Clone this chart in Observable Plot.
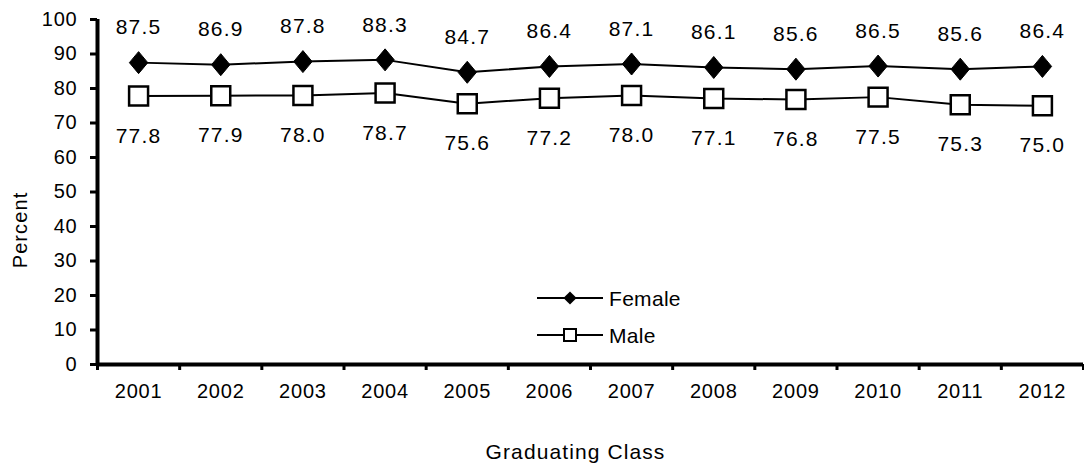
<!DOCTYPE html>
<html>
<head>
<meta charset="utf-8">
<script src="https://cdn.jsdelivr.net/npm/d3@7"></script>
<script src="https://cdn.jsdelivr.net/npm/@observablehq/plot@0.6"></script>
<style>
  html, body { margin: 0; padding: 0; background: #fff; }
  #wrap { position: relative; width: 1084px; height: 463px; font-family: "Liberation Sans", Arial, sans-serif; }
  #legend { position: absolute; left: 530px; top: 280px; }
  .tick-lbl text { letter-spacing: 0.8px; }
  .data-lbl text { letter-spacing: 1.2px; }
  .title-lbl text { letter-spacing: 1.1px; }
</style>
</head>
<body>
<div id="wrap"></div>
<script>
const years = [2001, 2002, 2003, 2004, 2005, 2006, 2007, 2008, 2009, 2010, 2011, 2012];
const female = [87.5, 86.9, 87.8, 88.3, 84.7, 86.4, 87.1, 86.1, 85.6, 86.5, 85.6, 86.4];
const male = [77.8, 77.9, 78.0, 78.7, 75.6, 77.2, 78.0, 77.1, 76.8, 77.5, 75.3, 75.0];
const yTicks = [0, 10, 20, 30, 40, 50, 60, 70, 80, 90, 100];
const seriesNames = ["Female", "Male"];
const xTitle = "Graduating Class";
const yTitle = "Percent";

const fData = years.map((y, i) => ({year: y, value: female[i]}));
const mData = years.map((y, i) => ({year: y, value: male[i]}));
const bounds = [...years.map(y => y - 0.5), years[years.length - 1] + 0.5];

const diamond = {
  draw(ctx, size) {
    const r = Math.sqrt(size / Math.PI);
    ctx.moveTo(0, -r * 1.1);
    ctx.lineTo(r * 0.92, 0);
    ctx.lineTo(0, r * 1.1);
    ctx.lineTo(-r * 0.92, 0);
    ctx.closePath();
  }
};

const font = "'Liberation Sans', Arial, sans-serif";

const chart = Plot.plot({
  width: 1084,
  height: 463,
  marginLeft: 97,
  marginRight: 1,
  marginTop: 19,
  marginBottom: 99,
  style: {fontFamily: font, fontSize: "20px", color: "#000", background: "#fff", overflow: "visible"},
  x: {domain: [bounds[0], bounds[bounds.length - 1]]},
  y: {domain: [0, 100]},
  marks: [
    Plot.axisY({ticks: yTicks, tickSize: 7, tickPadding: 13, strokeWidth: 3, strokeOpacity: 1, label: null, fontSize: 20, className: "tick-lbl"}),
    Plot.axisX({ticks: bounds, tickSize: 6, tickFormat: () => "", strokeWidth: 3, strokeOpacity: 1, label: null}),
    Plot.axisX({ticks: years, tickSize: 0, tickPadding: 19, tickFormat: d => String(d), label: null, fontSize: 20, className: "tick-lbl"}),
    Plot.ruleX([bounds[0]], {stroke: "#000", strokeWidth: 4}),
    Plot.ruleY([0], {stroke: "#000", strokeWidth: 4}),
    Plot.line(fData, {x: "year", y: "value", stroke: "#000", strokeWidth: 2}),
    Plot.line(mData, {x: "year", y: "value", stroke: "#000", strokeWidth: 2}),
    Plot.dot(fData, {x: "year", y: "value", symbol: diamond, r: 10, fill: "#000", stroke: "#000", strokeWidth: 1}),
    Plot.dot(mData, {x: "year", y: "value", symbol: "square", r: 10.7, fill: "#fff", stroke: "#000", strokeWidth: 2.5}),
    Plot.text(fData, {x: "year", y: "value", text: d => d.value.toFixed(1), dy: -35, fontSize: 21, fill: "#000", className: "data-lbl"}),
    Plot.text(mData, {x: "year", y: "value", text: d => d.value.toFixed(1), dy: 40, fontSize: 21, fill: "#000", className: "data-lbl"}),
    Plot.text([yTitle], {frameAnchor: "left", textAnchor: "middle", lineAnchor: "middle", rotate: -90, dx: -77, dy: 38, fontSize: 20, fill: "#000", className: "title-lbl"}),
    Plot.text([xTitle], {frameAnchor: "bottom", textAnchor: "middle", lineAnchor: "middle", dx: -15, dy: 88, fontSize: 21, fill: "#000", className: "title-lbl"})
  ]
});
document.getElementById("wrap").appendChild(chart);

// Legend overlay
const legend = d3.select("#wrap").append("svg")
  .attr("id", "legend").attr("width", 150).attr("height", 75)
  .style("font-family", font).style("font-size", "21px").style("letter-spacing", "0.3px");
const rows = [
  {name: seriesNames[0], y: 18, kind: "diamond"},
  {name: seriesNames[1], y: 55, kind: "square"}
];
rows.forEach(r => {
  const g = legend.append("g");
  g.append("line").attr("x1", 7).attr("x2", 73).attr("y1", r.y).attr("y2", r.y).attr("stroke", "#000").attr("stroke-width", 2);
  if (r.kind === "diamond") {
    g.append("path").attr("d", d3.symbol(d3.symbolDiamond2, 110)()).attr("transform", `translate(40,${r.y})`).attr("fill", "#000");
  } else {
    g.append("rect").attr("x", 34).attr("y", r.y - 6).attr("width", 12).attr("height", 12).attr("fill", "#fff").attr("stroke", "#000").attr("stroke-width", 2);
  }
  g.append("text").attr("x", 79).attr("y", r.y).attr("dy", "0.36em").text(r.name);
});
</script>
</body>
</html>
